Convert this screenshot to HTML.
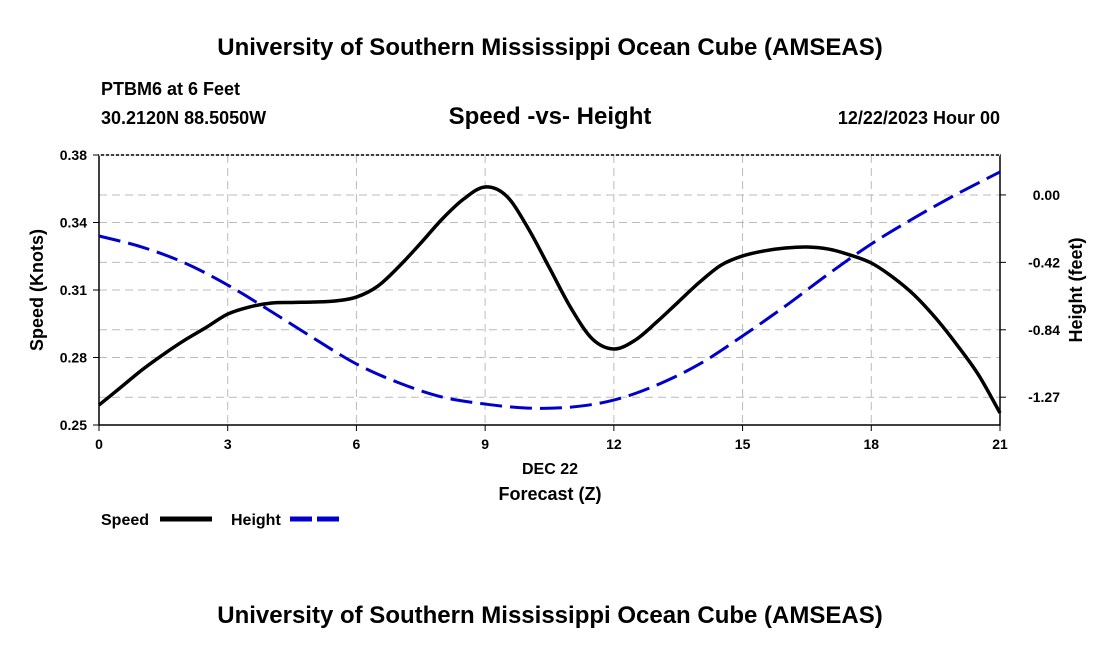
<!DOCTYPE html>
<html><head><meta charset="utf-8"><style>
body{margin:0;background:#fff;}
svg text{font-family:"Liberation Sans",Arial,sans-serif;font-weight:bold;fill:#000;}
</style></head><body>
<svg id="c" width="1100" height="650" viewBox="0 0 1100 650">
<text x="550" y="55" font-size="24" text-anchor="middle">University of Southern Mississippi Ocean Cube (AMSEAS)</text>
<text x="101" y="95" font-size="18">PTBM6 at 6 Feet</text>
<text x="101" y="124" font-size="18">30.2120N  88.5050W</text>
<text x="550" y="124" font-size="24" text-anchor="middle">Speed -vs- Height</text>
<text x="1000" y="124" font-size="18" text-anchor="end">12/22/2023 Hour 00</text>
<g id="grid"></g>
<g id="axes"></g>
<g id="series"></g>
<text x="550" y="474" font-size="16" text-anchor="middle">DEC 22</text>
<text x="550" y="500" font-size="18" text-anchor="middle">Forecast (Z)</text>
<text transform="translate(43,290) rotate(-90)" font-size="18" text-anchor="middle">Speed (Knots)</text>
<text transform="translate(1082,290) rotate(-90)" font-size="18" text-anchor="middle">Height (feet)</text>
<g>
<text x="101" y="525" font-size="16">Speed</text>
<line x1="160" y1="519" x2="212" y2="519" stroke="#000" stroke-width="5"/>
<text x="231" y="525" font-size="16">Height</text>
<line x1="290" y1="519" x2="342" y2="519" stroke="#0000cc" stroke-width="5" stroke-dasharray="22,5"/>
</g>
<text x="550" y="623" font-size="24" text-anchor="middle">University of Southern Mississippi Ocean Cube (AMSEAS)</text>
</svg>
<script>
const hours=[0,0.5,1,1.5,2,2.5,3,3.5,4,4.5,5,5.5,6,6.5,7,7.5,8,8.5,9,9.5,10,10.5,11,11.5,12,12.5,13,13.5,14,14.5,15,15.5,16,16.5,17,17.5,18,18.5,19,19.5,20,20.5,21];
const speed=[0.2596,0.268,0.2765,0.284,0.2909,0.297,0.3034,0.3068,0.3087,0.309,0.3092,0.3097,0.3116,0.3169,0.3265,0.3376,0.3492,0.3588,0.3646,0.3602,0.3448,0.3256,0.3063,0.2914,0.2866,0.2909,0.2996,0.3092,0.3188,0.327,0.3314,0.3338,0.3352,0.3357,0.3347,0.3319,0.328,0.3212,0.3126,0.3015,0.2885,0.2741,0.2558];
const heightHours=[0,1,2,3,4,5,6,7,8,9,10,11,12,13,14,15,16,17,18,19,20,21];
const height=[-0.257,-0.326,-0.426,-0.564,-0.727,-0.896,-1.058,-1.177,-1.265,-1.309,-1.334,-1.328,-1.284,-1.19,-1.058,-0.883,-0.695,-0.495,-0.307,-0.144,0.006,0.144];
const xTicks=[0,3,6,9,12,15,18,21];
const leftTicks=[0.25,0.2825,0.315,0.3475,0.38];
const leftLabels=["0.25","0.28","0.31","0.34","0.38"];
const rightTicks=[0,-0.422,-0.844,-1.266];
const rightLabels=["0.00","-0.42","-0.84","-1.27"];

const L=99,R=1000,T=155,B=425,NS="http://www.w3.org/2000/svg";
const xs=h=>L+(h-0)/21*(R-L);
const ys=v=>B-(v-0.25)/(0.38-0.25)*(B-T);
const yh=v=>B-(v-(-1.44))/(0.25-(-1.44))*(B-T);
function mk(p,tag,a){const e=document.createElementNS(NS,tag);for(const k in a)e.setAttribute(k,a[k]);document.getElementById(p).appendChild(e);return e;}

xTicks.forEach(h=>{
  if(h>0&&h<21){const g=mk('grid','line',{x1:xs(h),x2:xs(h),y1:T,y2:B,stroke:'#bbb','stroke-dasharray':'8,5'});
  
  }
  const t=mk('axes','line',{x1:xs(h),x2:xs(h),y1:B,y2:B+6,stroke:'#000'});
  
  
  const l=mk('axes','text',{x:xs(h),y:B+24,'font-size':14,'text-anchor':'middle'});l.textContent=h;
  
  
});
leftTicks.forEach((v,i)=>{
  if(i>0&&i<leftTicks.length-1){const g=mk('grid','line',{x1:L,x2:R,y1:ys(v),y2:ys(v),stroke:'#bbb','stroke-dasharray':'8,5'});
  
  }
  const t=mk('axes','line',{x1:L-6,x2:L,y1:ys(v),y2:ys(v),stroke:'#000'});
  
  
  const l=mk('axes','text',{x:L-12,y:ys(v)+5,'font-size':14,'text-anchor':'end'});l.textContent=leftLabels[i];
  
  
});
rightTicks.forEach((v,i)=>{
  const g=mk('grid','line',{x1:L,x2:R,y1:yh(v),y2:yh(v),stroke:'#bbb','stroke-dasharray':'8,5'});
  
  
  const t=mk('axes','line',{x1:R,x2:R+6,y1:yh(v),y2:yh(v),stroke:'#000'});
  
  
  const l=mk('axes','text',{x:R+60,y:yh(v)+5,'font-size':14,'text-anchor':'end'});l.textContent=rightLabels[i];
  
  
});
const frame=mk('axes','rect',{x:L,y:T,width:R-L,height:B-T,fill:'none',stroke:'#000','stroke-width':1.5});


const topEdge=mk('axes','line',{x1:L,x2:R,y1:T,y2:T,stroke:'#fff','stroke-width':1.5,'stroke-dasharray':'2,3'});



function path(xa,ya,yf){let d='';
  for(let i=0;i<xa.length;i++){
    const p0=[xs(xa[Math.max(i-1,0)]),yf(ya[Math.max(i-1,0)])],p1=[xs(xa[i]),yf(ya[i])];
    if(i===0){d='M'+p1[0]+','+p1[1];continue;}
    const pm=[xs(xa[Math.max(i-2,0)]),yf(ya[Math.max(i-2,0)])],pn=[xs(xa[Math.min(i+1,xa.length-1)]),yf(ya[Math.min(i+1,xa.length-1)])];
    const c1=[p0[0]+(p1[0]-pm[0])/6,p0[1]+(p1[1]-pm[1])/6],c2=[p1[0]-(pn[0]-p0[0])/6,p1[1]-(pn[1]-p0[1])/6];
    d+=` C${c1[0]},${c1[1]} ${c2[0]},${c2[1]} ${p1[0]},${p1[1]}`;
  }return d;}
const sp=mk('series','path',{d:path(hours,speed,ys),fill:'none',stroke:'#000','stroke-width':3.5});


const hp=mk('series','path',{d:path(heightHours,height,yh),fill:'none',stroke:'#0000cc','stroke-width':3,'stroke-dasharray':'22,8'});


</script>
</body></html>
